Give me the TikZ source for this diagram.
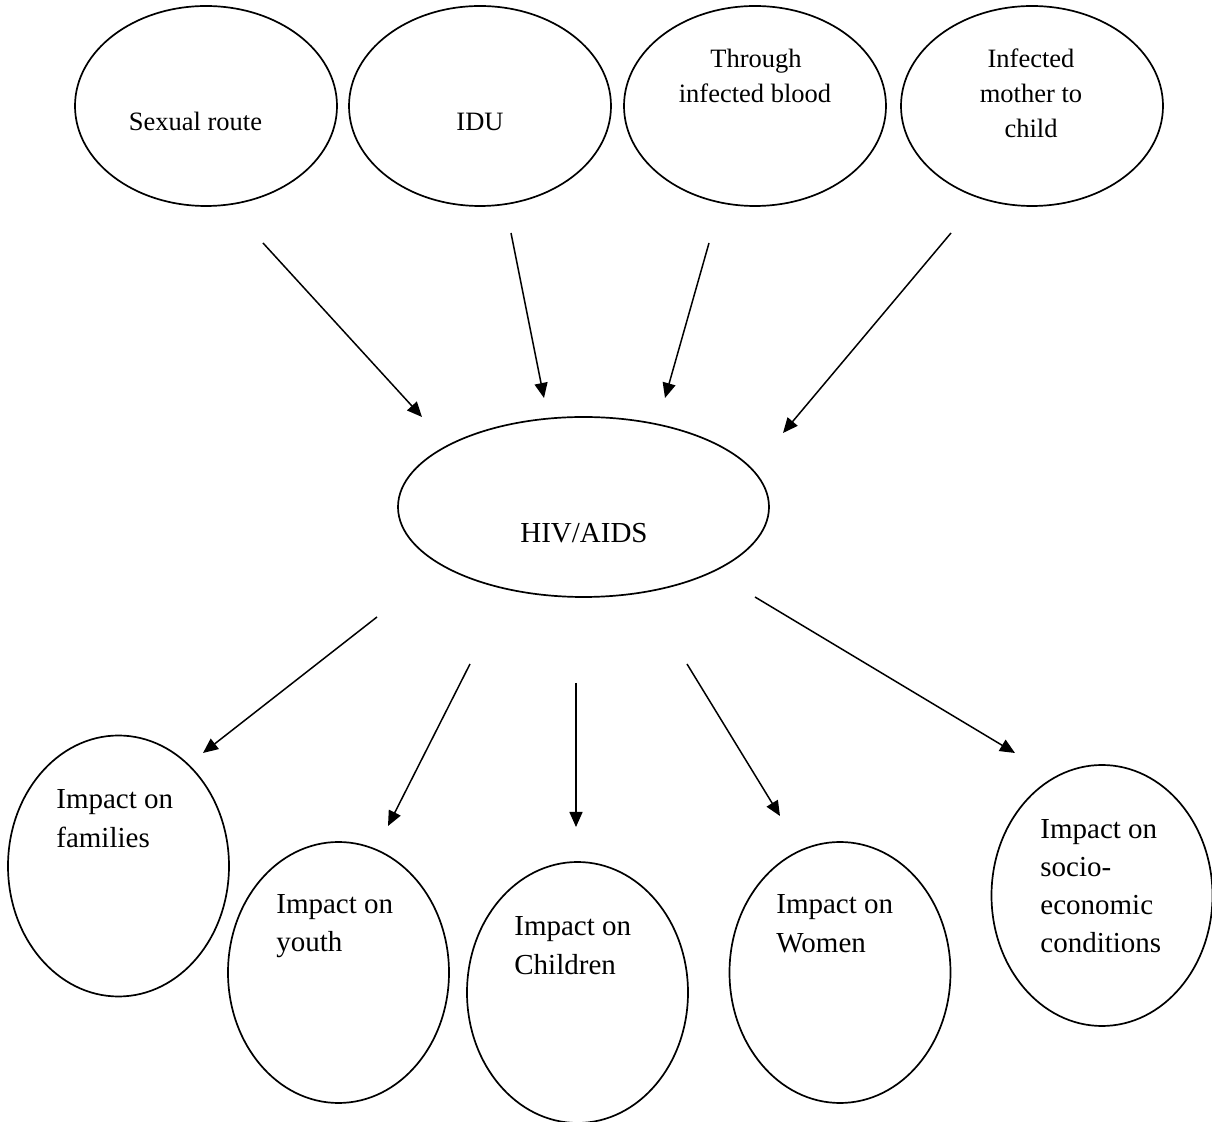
\documentclass[tikz,border=0pt]{standalone}
\usepackage{fontspec}
\setmainfont{Liberation Serif}
\usetikzlibrary{shapes.geometric,arrows.meta}
\begin{document}
\begin{tikzpicture}[x=0.5pt,y=-0.5pt,
  oval/.style={draw, ellipse, line width=0.85pt, inner sep=0pt},
  topoval/.style={oval, minimum width=131pt, minimum height=100pt},
  midoval/.style={oval, minimum width=185.5pt, minimum height=90pt},
  botoval/.style={oval, minimum width=110.5pt, minimum height=130.5pt},
  toptxt/.style={inner sep=0pt, anchor=base, font=\fontsize{13.25}{16}\selectfont},
  bigtxt/.style={inner sep=0pt, anchor=base, font=\fontsize{14.5}{17}\selectfont},
  bottxt/.style={inner sep=0pt, anchor=base west, font=\fontsize{14.5}{17}\selectfont},
  arr/.style={-{Triangle[length=7.5pt,width=6.5pt]}, line width=0.75pt}]
\fill[white] (0,0) rectangle (1212,1122);
\useasboundingbox (0,0) rectangle (1212,1122);

% top ellipses
\node[topoval] (sr)  at (206,106) {};
\node[topoval] (idu) at (480,106) {};
\node[topoval] (blood) at (755,106) {};
\node[topoval] (mother) at (1032,106) {};
\node[toptxt] (srT) at (195.5,131) {Sexual route};
\node[toptxt] (iduT) at (480,131) {IDU};
\node[toptxt] (bloodT1) at (756,68) {Through};
\node[toptxt] (bloodT2) at (755,103) {infected blood};
\node[toptxt] (motherT1) at (1031,68) {Infected};
\node[toptxt] (motherT2) at (1031,103) {mother to};
\node[toptxt] (motherT3) at (1031,138) {child};

% centre
\node[midoval] (hiv) at (583.5,507) {};
\node[bigtxt] (hivT) at (584,543) {HIV/AIDS};

% bottom ellipses
\node[botoval] (fam) at (118.5,866) {};
\node[botoval] (youth) at (338.5,972.5) {};
\node[botoval] (child) at (577.5,992.5) {};
\node[botoval] (women) at (840,972.5) {};
\node[botoval] (socio) at (1102,895.5) {};
\node[bottxt] (famT1) at (56,809) {Impact on};
\node[bottxt] (famT2) at (56,848) {families};
\node[bottxt] (youthT1) at (276,914) {Impact on};
\node[bottxt] (youthT2) at (276,952) {youth};
\node[bottxt] (childT1) at (514,936) {Impact on};
\node[bottxt] (childT2) at (514,975) {Children};
\node[bottxt] (womenT1) at (776,914) {Impact on};
\node[bottxt] (womenT2) at (776,953) {Women};
\node[bottxt] (socioT1) at (1040,839) {Impact on};
\node[bottxt] (socioT2) at (1040,877) {socio-};
\node[bottxt] (socioT3) at (1040,915) {economic};
\node[bottxt] (socioT4) at (1040,953) {conditions};

% arrow end points
\coordinate (a1s) at (263,243);  \coordinate (a1e) at (422,417);
\coordinate (a2s) at (511,233);  \coordinate (a2e) at (544,398);
\coordinate (a3s) at (709,243);  \coordinate (a3e) at (665,398);
\coordinate (a4s) at (951,233);  \coordinate (a4e) at (783,433);
\coordinate (b1s) at (377,617);  \coordinate (b1e) at (203,753);
\coordinate (b2s) at (470,664);  \coordinate (b2e) at (388,826);
\coordinate (b3s) at (576,683);  \coordinate (b3e) at (576,827);
\coordinate (b4s) at (687,664);  \coordinate (b4e) at (780,816);
\coordinate (b5s) at (755,597);  \coordinate (b5e) at (1015,753);

\draw[arr] (a1s) -- (a1e);
\draw[arr] (a2s) -- (a2e);
\draw[arr] (a3s) -- (a3e);
\draw[arr] (a4s) -- (a4e);
\draw[arr] (b1s) -- (b1e);
\draw[arr] (b2s) -- (b2e);
\draw[arr] (b3s) -- (b3e);
\draw[arr] (b4s) -- (b4e);
\draw[arr] (b5s) -- (b5e);
\end{tikzpicture}
\end{document}
